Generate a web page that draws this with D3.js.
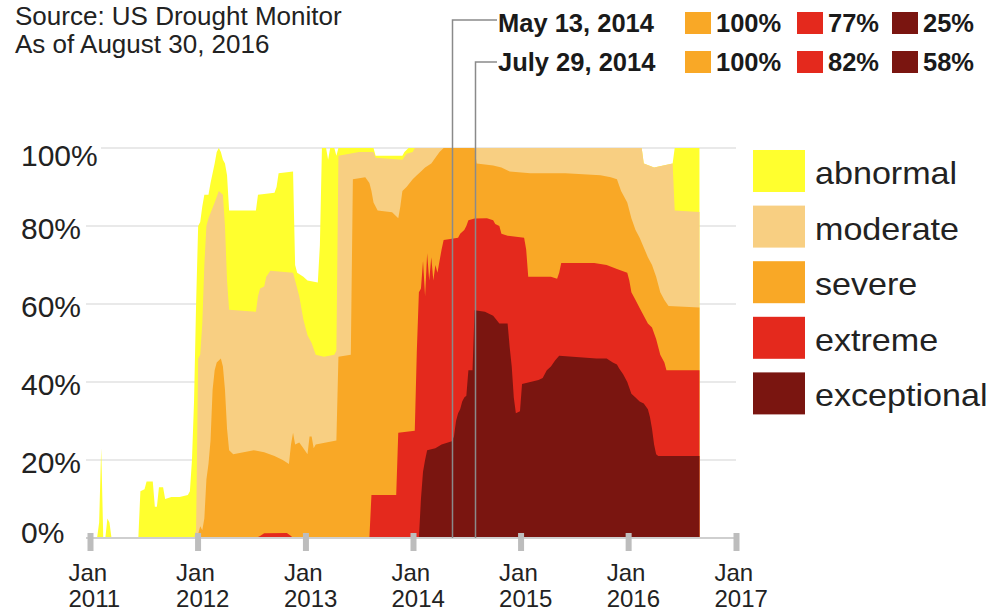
<!DOCTYPE html>
<html>
<head>
<meta charset="utf-8">
<script src="https://cdn.jsdelivr.net/npm/d3@7"></script>
<style>
  html, body { margin: 0; padding: 0; background: #fff; }
  svg { display: block; font-family: "Liberation Sans", Arial, Helvetica, sans-serif; }
</style>
</head>
<body>
<svg id="chart" width="999" height="616"></svg>
<script>
// ---------------- DATA ----------------
const categories = ["abnormal", "moderate", "severe", "extreme", "exceptional"];

// cumulative % of area (D0-D4, D1-D4, D2-D4, D3-D4, D4)
const abnormal = [
  ["2011-01-04",0],["2011-01-25",0],["2011-02-01",4],["2011-02-08",23],["2011-02-15",0],
  ["2011-02-22",0],["2011-03-01",5],["2011-03-08",4],["2011-03-15",0],["2011-06-14",0],
  ["2011-06-21",12],["2011-07-05",12.5],["2011-07-12",14.5],["2011-08-02",14.5],["2011-08-09",8],
  ["2011-08-16",8],["2011-08-23",13],["2011-09-06",13],["2011-09-13",10],["2011-10-04",10.5],
  ["2011-11-01",10.5],["2011-11-29",11],["2011-12-06",12],["2011-12-13",20],["2011-12-20",35],
  ["2011-12-27",60],["2012-01-03",80],["2012-01-10",81],["2012-01-17",85],["2012-01-24",88],
  ["2012-02-07",88],["2012-02-14",91],["2012-02-28",96],["2012-03-06",99],["2012-03-13",100],
  ["2012-03-20",99],["2012-03-27",97],["2012-04-03",96],["2012-04-10",93],["2012-04-17",84],
  ["2012-07-17",84],["2012-07-24",88],["2012-09-18",88.5],["2012-09-25",90],["2012-10-02",93.5],
  ["2012-11-20",94],["2012-11-27",70],["2012-12-04",68],["2012-12-25",67],["2013-01-08",66],
  ["2013-02-12",65.5],["2013-02-19",75],["2013-02-26",100],["2013-03-12",100],["2013-03-19",97],
  ["2013-03-26",100],["2013-04-09",100],["2013-04-16",98],["2013-04-23",100],["2013-08-20",100],
  ["2013-08-27",98],["2013-11-26",98],["2013-12-03",99],["2013-12-17",100],["2016-02-16",100],
  ["2016-02-23",96],["2016-03-29",95],["2016-05-31",96],["2016-06-07",100],["2016-08-30",100]
];
const moderate = [
  ["2011-12-20",0],["2011-12-27",2],["2012-01-03",46],["2012-01-10",47],["2012-01-17",55],
  ["2012-01-24",70],["2012-01-31",80],["2012-02-07",82],["2012-02-28",86],["2012-03-13",89],
  ["2012-03-27",88],["2012-04-03",80],["2012-04-10",66],["2012-04-17",58.5],["2012-07-17",58],
  ["2012-07-24",62],["2012-07-31",64],["2012-08-14",64.5],["2012-08-21",67],["2012-09-04",68.5],
  ["2012-11-20",68],["2012-11-27",66],["2012-12-11",62],["2012-12-25",56],["2013-01-08",52],
  ["2013-01-22",50],["2013-02-05",47],["2013-03-05",46.5],["2013-04-09",47],["2013-04-16",48],
  ["2013-04-23",98],["2013-07-02",99],["2013-08-20",99],["2013-08-27",97.5],["2013-11-26",97],
  ["2013-12-10",98.5],["2013-12-31",99],["2014-01-07",100],["2016-02-16",100],["2016-02-23",96],
  ["2016-03-29",95],["2016-05-31",96],["2016-06-07",84],["2016-08-30",83.6]
];
const severe = [
  ["2011-12-27",0],["2012-01-03",1],["2012-01-10",3],["2012-01-17",2],["2012-01-24",5],
  ["2012-01-31",15],["2012-02-07",19],["2012-02-14",25],["2012-02-21",38],["2012-02-28",43],
  ["2012-03-06",45],["2012-03-20",46],["2012-03-27",44],["2012-04-03",38],["2012-04-10",28],
  ["2012-04-17",22.5],["2012-05-01",21.5],["2012-06-05",22],["2012-07-10",22.5],["2012-08-14",22],
  ["2012-09-18",21],["2012-10-16",20],["2012-11-06",19],["2012-11-13",24],["2012-11-20",27],
  ["2012-11-27",24],["2012-12-11",24.5],["2012-12-25",23],["2013-01-08",21.5],["2013-01-15",26],
  ["2013-01-22",26],["2013-01-29",23],["2013-02-05",24],["2013-03-12",24.5],["2013-04-16",25],
  ["2013-04-23",46.5],["2013-06-04",47],["2013-06-11",92],["2013-07-23",92.5],["2013-08-06",91],
  ["2013-08-13",89],["2013-08-20",86],["2013-09-03",84],["2013-10-22",83.5],["2013-11-12",82],
  ["2013-11-19",85],["2013-11-26",89],["2013-12-10",90],["2013-12-31",92],["2014-01-14",93],
  ["2014-01-28",94],["2014-02-11",95],["2014-03-04",96],["2014-03-18",97.5],["2014-04-01",99],
  ["2014-04-15",100],["2014-07-29",100],["2014-08-05",96],["2014-09-30",95.5],["2014-10-28",95],
  ["2014-11-25",94],["2015-02-03",93.5],["2015-06-02",93.5],["2015-09-29",93],["2015-11-03",92.5],
  ["2015-11-24",92],["2015-12-08",89],["2015-12-29",86],["2016-01-12",82],["2016-01-26",79],
  ["2016-02-09",77],["2016-02-23",74.5],["2016-03-08",72],["2016-03-22",70],["2016-04-05",67],
  ["2016-04-19",63],["2016-05-03",61],["2016-05-17",59.5],["2016-08-30",59.1]
];
const extreme = [
  ["2012-07-17",0],["2012-07-31",0.5],["2012-08-14",1.2],["2012-10-30",1.3],["2012-11-13",0.5],
  ["2012-11-20",0],["2013-08-06",0],["2013-08-13",11],["2013-11-05",11],["2013-11-12",27],
  ["2014-01-07",27.5],["2014-01-14",48],["2014-01-21",63],["2014-01-28",64],["2014-02-04",71],
  ["2014-02-11",62],["2014-02-18",73],["2014-02-25",66],["2014-03-04",72],["2014-03-11",66],
  ["2014-03-18",70],["2014-03-25",68],["2014-04-01",71],["2014-04-08",74],["2014-04-15",76.4],
  ["2014-05-13",76.7],["2014-06-03",77],["2014-06-10",78],["2014-06-24",79],["2014-07-01",80],
  ["2014-07-08",81.5],["2014-07-29",81.9],["2014-09-09",82],["2014-09-30",81.5],["2014-10-07",80.5],
  ["2014-10-21",80],["2014-10-28",78],["2014-11-18",77.5],["2015-01-13",77],["2015-01-20",74],
  ["2015-01-27",67],["2015-04-14",67],["2015-05-05",66.5],["2015-05-12",68],["2015-05-19",70.5],
  ["2015-09-08",70.5],["2015-10-20",70],["2015-11-24",69],["2015-12-29",68],["2016-01-05",66],
  ["2016-01-12",63],["2016-01-26",61],["2016-02-09",59],["2016-02-23",57],["2016-03-08",55],
  ["2016-03-22",54],["2016-04-05",51],["2016-04-19",47],["2016-05-03",45],["2016-05-10",43],
  ["2016-08-30",43]
];
const exceptional = [
  ["2014-01-21",0],["2014-01-28",10],["2014-02-04",17],["2014-02-11",20],["2014-02-18",22.5],
  ["2014-03-18",23],["2014-04-08",24],["2014-05-13",24.8],["2014-05-20",26],["2014-05-27",30],
  ["2014-06-03",32],["2014-06-10",33],["2014-06-17",35],["2014-06-24",36],["2014-07-01",36.5],
  ["2014-07-08",43],["2014-07-22",43],["2014-07-29",58.4],["2014-09-02",58],["2014-09-30",57],
  ["2014-10-21",55],["2014-11-18",55],["2014-11-25",49],["2014-12-02",44],["2014-12-09",36],
  ["2014-12-16",32],["2014-12-30",32.5],["2015-01-06",39.5],["2015-02-03",40],["2015-03-03",40.5],
  ["2015-03-17",41],["2015-03-31",43],["2015-04-14",44],["2015-04-28",45.5],["2015-05-12",46.7],
  ["2015-09-15",46],["2015-10-20",46],["2015-11-10",45],["2015-11-24",44.5],["2015-12-01",43.5],
  ["2015-12-15",42],["2015-12-29",40],["2016-01-12",37],["2016-01-26",36],["2016-02-09",35],
  ["2016-02-23",34.5],["2016-03-08",33],["2016-03-15",31],["2016-03-22",28],["2016-03-29",24],
  ["2016-04-05",21.5],["2016-04-12",21],["2016-08-30",21]
];

const tickYears = [2011, 2012, 2013, 2014, 2015, 2016, 2017];
const tickMonth = "Jan";
const yTicks = [0, 20, 40, 60, 80, 100];

const sourceLines = ["Source: US Drought Monitor", "As of August 30, 2016"];
const annoDates = ["2014-05-13", "2014-07-29"];
const annoLabels = ["May 13, 2014", "July 29, 2014"];
const annoSevere = [100, 100];
const annoExtreme = [77, 82];
const annoExceptional = [25, 58];

// ---------------- STYLE ----------------
const colors = ["#ffff2e", "#f8cf82", "#f9a826", "#e4291d", "#7a1510"];
const textColor = "#222";
const parse = d3.timeParse("%Y-%m-%d");
const seriesList = [abnormal, moderate, severe, extreme, exceptional];

const svg = d3.select("#chart");

const x = d3.scaleTime()
  .domain([new Date(2011, 0, 1), new Date(2017, 0, 1)])
  .range([90, 736]);
const y = d3.scaleLinear().domain([0, 100]).range([538, 148]);

// gridlines
svg.append("g").selectAll("line")
  .data(yTicks.filter(d => d > 0))
  .join("line")
  .attr("x1", d => d === 100 ? 101 : 86)
  .attr("x2", 736)
  .attr("y1", d => y(d)).attr("y2", d => y(d))
  .attr("stroke", "#e2e2e2").attr("stroke-width", 1.5);

// areas
const area = d3.area()
  .x(d => x(parse(d[0])))
  .y0(y(0))
  .y1(d => y(d[1]))
  .curve(d3.curveLinear);

svg.append("g").selectAll("path")
  .data(seriesList)
  .join("path")
  .attr("d", area)
  .attr("fill", (d, i) => colors[i]);

// baseline
svg.append("line")
  .attr("x1", 86).attr("x2", 736)
  .attr("y1", y(0)).attr("y2", y(0))
  .attr("stroke", "#cfcfcf").attr("stroke-width", 2);

// x axis
const xAxis = d3.axisBottom(x)
  .tickValues(tickYears.map(yr => new Date(yr, 0, 1)))
  .tickSize(0)
  .tickFormat(d => d.getFullYear());
const gx = svg.append("g").attr("transform", `translate(0,${y(0)})`).call(xAxis);
gx.select(".domain").remove();
gx.selectAll(".tick").append("rect")
  .attr("x", -3).attr("y", -5).attr("width", 6).attr("height", 18)
  .attr("fill", "#bdbdbd");
gx.selectAll(".tick text").each(function(d) {
  const t = d3.select(this);
  t.text(null)
    .attr("x", -22).attr("y", 43).attr("dy", null)
    .attr("text-anchor", "start")
    .attr("fill", textColor)
    .style("font-size", "24px")
    .style("font-family", "'Liberation Sans', Arial, sans-serif");
  t.append("tspan").attr("x", -22).attr("y", 43).text(tickMonth);
  t.append("tspan").attr("x", -22).attr("y", 69).text(d.getFullYear());
});

// y axis
const yNudge = {0: -6, 100: 7};
const yAxis = d3.axisLeft(y).tickValues(yTicks).tickSize(0).tickFormat(d => d + "%");
const gy = svg.append("g").attr("transform", "translate(21,0)").call(yAxis);
gy.select(".domain").remove();
gy.selectAll(".tick text")
  .attr("x", 0).attr("text-anchor", "start")
  .attr("dy", d => (yNudge[d] !== undefined ? yNudge[d] : 2) + 10.5)
  .attr("fill", textColor)
  .style("font-size", "30px")
  .style("font-family", "'Liberation Sans', Arial, sans-serif");

// source text
svg.append("g").selectAll("text")
  .data(sourceLines)
  .join("text")
  .attr("x", 15)
  .attr("y", (d, i) => 25 + i * 28)
  .attr("fill", textColor)
  .style("font-size", "26px")
  .text(d => d);

// annotation lines
const annoRowY = [20, 62];
svg.append("g").selectAll("path")
  .data(annoDates)
  .join("path")
  .attr("d", (d, i) => {
    const xx = Math.round(x(parse(d))) + 0.5;
    return `M${xx},${y(0)}V${annoRowY[i]}H497`;
  })
  .attr("fill", "none")
  .attr("stroke", "#8a8a8a").attr("stroke-width", 1.5);

// annotation rows
const rows = svg.append("g").selectAll("g")
  .data(annoLabels)
  .join("g")
  .attr("transform", (d, i) => `translate(0,${[32, 71][i]})`);
rows.append("text")
  .attr("x", 498).attr("y", 0)
  .attr("fill", "#1a1a1a")
  .style("font-size", "25.5px").style("font-weight", "bold")
  .text(d => d);
const swX = [685, 797, 892];
const swColors = [colors[2], colors[3], colors[4]];
rows.each(function(d, i) {
  const g = d3.select(this);
  const vals = [annoSevere[i], annoExtreme[i], annoExceptional[i]];
  vals.forEach((v, k) => {
    g.append("rect")
      .attr("x", swX[k]).attr("y", -20).attr("width", 26).attr("height", 22)
      .attr("fill", swColors[k]);
    g.append("text")
      .attr("x", swX[k] + 31).attr("y", 0)
      .attr("fill", "#1a1a1a")
      .style("font-size", "25.5px").style("font-weight", "bold")
      .text(v + "%");
  });
});

// legend
const leg = svg.append("g").selectAll("g")
  .data(categories)
  .join("g")
  .attr("transform", (d, i) => `translate(753,${150 + i * 55.6})`);
leg.append("rect")
  .attr("width", 52).attr("height", 42)
  .attr("fill", (d, i) => colors[i]);
leg.append("text")
  .attr("transform", "translate(62,34) scale(1.1,1)")
  .attr("fill", textColor)
  .style("font-size", "31px")
  .text(d => d);
</script>
</body>
</html>
